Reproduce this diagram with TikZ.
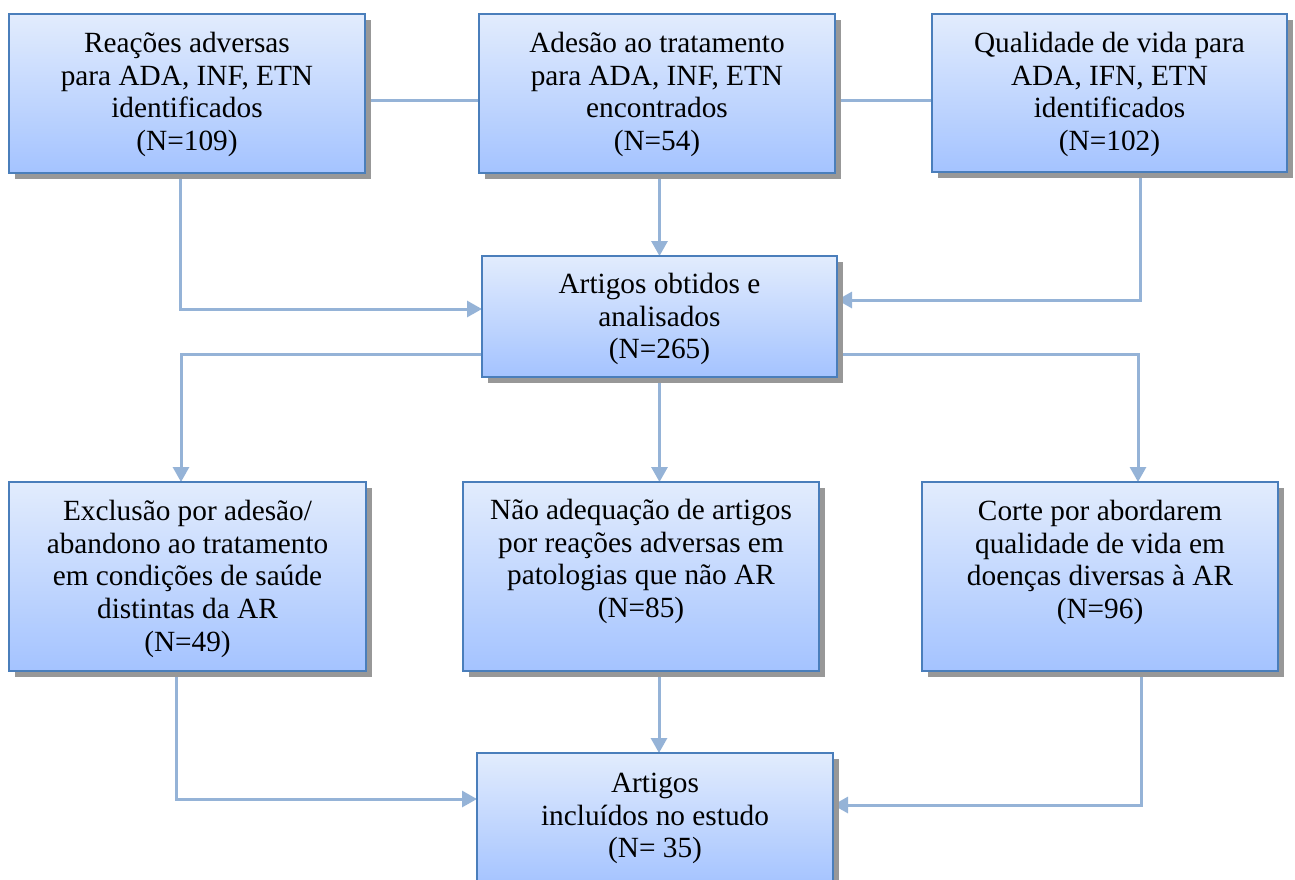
\documentclass[tikz,border=0pt]{standalone}
\usepackage{fontspec}
\setmainfont{Liberation Serif}
\usetikzlibrary{arrows.meta,backgrounds,calc}
\definecolor{boxborder}{RGB}{74,126,187}
\definecolor{boxtop}{RGB}{226,236,253}
\definecolor{boxbot}{RGB}{164,195,255}
\definecolor{shadowgray}{RGB}{152,152,152}
\definecolor{linkblue}{RGB}{149,179,215}
\tikzset{
  box/.style={draw=boxborder, line width=2.2pt, top color=boxtop, bottom color=boxbot, inner sep=0pt, outer sep=0pt},
  boxshadow/.style={fill=shadowgray, draw=none},
  boxtext/.style={font=\fontsize{29.3}{32.8}\selectfont, align=center, inner sep=0pt, anchor=north},
  link/.style={draw=linkblue, line width=3pt},
  arrowlink/.style={link, -{Triangle[width=16pt,length=15pt]}},
}
\newcommand\mkbox[5]{%
  \fill[boxshadow] (#2+6,#3+6) rectangle (#4+6,#5+6);
  \node[box, minimum width={(#4-#2)*1pt}, minimum height={(#5-#3)*1pt}] (#1) at ({(#2+#4)/2},{(#3+#5)/2}) {};
}
\newcommand\fstrut{\rule{0pt}{26pt}}
\begin{document}
\begin{tikzpicture}[x=1pt,y=-1pt]
\useasboundingbox (0,0) rectangle (1295,879);
\clip (0,0) rectangle (1295,879);

\mkbox{B1}{9}{14}{365}{173}
\mkbox{B2}{479}{14}{835}{173}
\mkbox{B3}{932}{14}{1287}{172}
\mkbox{B4}{482}{256}{837}{377}
\mkbox{B5}{9}{482}{366}{671}
\mkbox{B6}{463}{482}{819}{671}
\mkbox{B7}{922}{482}{1278}{671}
\mkbox{B8}{477}{753}{833}{886}

\node[boxtext] (B1t) at ($(B1.north)+(0,12)$) {\fstrut Reações adversas\\para ADA, INF, ETN\\identificados\\(N=109)};
\node[boxtext] (B2t) at ($(B2.north)+(0,12)$) {\fstrut Adesão ao tratamento\\para ADA, INF, ETN\\encontrados\\(N=54)};
\node[boxtext] (B3t) at ($(B3.north)+(0,12)$) {\fstrut Qualidade de vida para\\ADA, IFN, ETN\\identificados\\(N=102)};
\node[boxtext] (B4t) at ($(B4.north)+(0,11)$) {\fstrut Artigos obtidos e\\analisados\\(N=265)};
\node[boxtext] (B5t) at ($(B5.north)+(0,12)$) {\fstrut Exclusão por adesão/\\abandono ao tratamento\\em condições de saúde\\distintas da AR\\(N=49)};
\node[boxtext] (B6t) at ($(B6.north)+(0,11)$) {\fstrut Não adequação de artigos\\por reações adversas em\\patologias que não AR\\(N=85)};
\node[boxtext] (B7t) at ($(B7.north)+(0,12)$) {\fstrut Corte por abordarem\\qualidade de vida em\\doenças diversas à AR\\(N=96)};
\node[boxtext] (B8t) at ($(B8.north)+(0,13)$) {\fstrut Artigos\\incluídos no estudo\\(N= 35)};

\coordinate (h1) at (0,100);
\coordinate (c1) at (180,309);
\coordinate (c3) at (1140,300);
\coordinate (c4) at (181,354);
\coordinate (c5) at (1138,354);
\coordinate (c6) at (176,799);
\coordinate (c7) at (659,0);
\coordinate (c8) at (1141,805);

\begin{scope}[on background layer]
  \draw[link] (B1.east |- h1) -- (B2.west |- h1);
  \draw[link] (B2.east |- h1) -- (B3.west |- h1);
  \draw[arrowlink] ($(c1 |- B1.south)+(0,6)$) -- (c1) -- (B4.west |- c1);
  \draw[arrowlink] (B4.north |- B2.south) -- (B4.north);
  \draw[arrowlink] (c3 |- B3.south) -- (c3) -- (B4.east |- c3);
  \draw[arrowlink] (B4.west |- c4) -- (c4) -- (c4 |- B5.north);
  \draw[arrowlink] (B4.east |- c5) -- (c5) -- (c5 |- B7.north);
  \draw[arrowlink] (B4.south) -- (B4.south |- B6.north);
  \draw[arrowlink] (c6 |- B5.south) -- (c6) -- (B8.west |- c6);
  \draw[arrowlink] (c7 |- B6.south) -- (c7 |- B8.north);
  \draw[arrowlink] (c8 |- B7.south) -- (c8) -- (B8.east |- c8);
\end{scope}
\end{tikzpicture}
\end{document}
